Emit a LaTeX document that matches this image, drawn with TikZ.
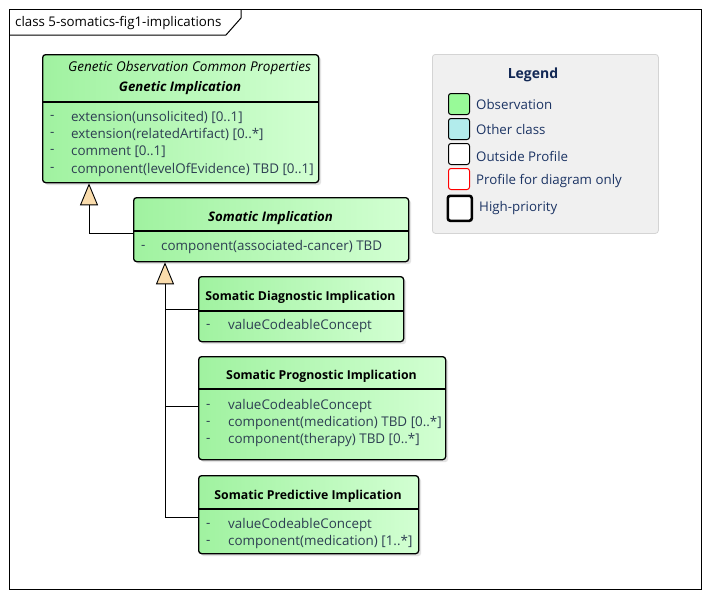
\documentclass[tikz,border=0pt]{standalone}
\usepackage{fontspec}
\setmainfont{Open Sans}
\usetikzlibrary{arrows.meta,calc,shadows}
\definecolor{gl}{RGB}{160,242,160}
\definecolor{gr}{RGB}{210,255,210}
\definecolor{tri}{RGB}{250,220,172}
\definecolor{attr}{RGB}{45,62,82}
\definecolor{lgtext}{RGB}{28,52,100}
\definecolor{lgtitle}{RGB}{18,40,85}
\definecolor{lgfill}{RGB}{240,240,240}
\definecolor{lgdraw}{RGB}{212,212,212}
\definecolor{obs}{RGB}{152,250,152}
\definecolor{oth}{RGB}{178,236,236}
\begin{document}
\begin{tikzpicture}[x=1pt,y=-1pt,
  cls/.style={draw=black, line width=1.3pt, rounded corners=3pt, left color=gl, right color=gr,
    anchor=north west, inner sep=0pt, drop shadow={opacity=0.22, shadow xshift=2.5pt, shadow yshift=-2.5pt}},
  sep/.style={draw=black, line width=1.3pt},
  ttl/.style={font=\fontsize{12.3}{14}\selectfont\bfseries, inner sep=0pt},
  ttli/.style={font=\fontsize{13.2}{15}\selectfont\bfseries\itshape, inner sep=0pt},
  sup/.style={font=\fontsize{13.5}{15}\selectfont\itshape, inner sep=0pt},
  att/.style={font=\fontsize{13.4}{15}\selectfont, text=attr, anchor=west, inner sep=0pt},
  conn/.style={draw=black, line width=0.9pt},
  gen/.style={conn, -{Triangle[width=18pt,length=22pt,fill=tri,line width=0.9pt]}},
  sw/.style={draw=black, line width=1pt, rounded corners=2.5pt, anchor=north west, minimum width=21pt, minimum height=21pt, inner sep=0pt},
  lgt/.style={font=\fontsize{13.3}{15}\selectfont, text=lgtext, anchor=west, inner sep=0pt}
]
\useasboundingbox (0,0) rectangle (709,597);
\fill[white] (0,0) rectangle (709,597);
% frame
\draw[line width=1pt] (9,9) rectangle (701,589);
\draw[line width=1pt] (9,35) -- (226,35) -- (241,18) -- (241,9);
\node[font=\fontsize{13.3}{15}\selectfont, anchor=west, inner sep=0pt] (frametitle) at (15,23) {class 5-somatics-fig1-implications};

% Genetic Implication
\node[cls, minimum width=276pt, minimum height=128pt] (gi) at (42,54) {};
\draw[sep] ($(gi.north west)+(0,48)$) -- ($(gi.north east)+(0,48)$);
\node[sup] (gisup) at (189.5,67.5) {Genetic Observation Common Properties};
\node[ttli] (gititle) at (180,88.5) {Genetic Implication};
\node[att] (gid1) at (50,117.5) {-};
\node[att] (gia1) at (71,117.5) {extension(unsolicited) [0..1]};
\node[att] (gid2) at (50,134.5) {-};
\node[att] (gia2) at (71,134.5) {extension(relatedArtifact) [0..*]};
\node[att] (gid3) at (50,151.5) {-};
\node[att] (gia3) at (71,151.5) {comment [0..1]};
\node[att] (gid4) at (50,169.5) {-};
\node[att] (gia4) at (71,169.5) {component(levelOfEvidence) TBD [0..1]};

% Somatic Implication
\node[cls, minimum width=275pt, minimum height=64pt] (si) at (133,197) {};
\draw[sep] ($(si.north west)+(0,34)$) -- ($(si.north east)+(0,34)$);
\node[ttli] (sititle) at (270.5,218.5) {Somatic Implication};
\node[att] (sid1) at (141,247.5) {-};
\node[att] (sia1) at (161,247.5) {component(associated-cancer) TBD};

% Somatic Diagnostic Implication
\node[cls, minimum width=205pt, minimum height=65pt] (sd) at (198,276) {};
\draw[sep] ($(sd.north west)+(0,35)$) -- ($(sd.north east)+(0,35)$);
\node[ttl] (sdtitle) at (300.5,297.5) {Somatic Diagnostic Implication};
\node[att] (sdd1) at (206,326.5) {-};
\node[att] (sda1) at (228,326.5) {valueCodeableConcept};

% Somatic Prognostic Implication
\node[cls, minimum width=247pt, minimum height=103pt] (sp) at (198,356) {};
\draw[sep] ($(sp.north west)+(0,33)$) -- ($(sp.north east)+(0,33)$);
\node[ttl] (sptitle) at (321.5,376.5) {Somatic Prognostic Implication};
\node[att] (spd1) at (206,406.5) {-};
\node[att] (spa1) at (228,406.5) {valueCodeableConcept};
\node[att] (spd2) at (206,423.5) {-};
\node[att] (spa2) at (228,423.5) {component(medication) TBD [0..*]};
\node[att] (spd3) at (206,440.5) {-};
\node[att] (spa3) at (228,440.5) {component(therapy) TBD [0..*]};

% Somatic Predictive Implication
\node[cls, minimum width=220pt, minimum height=78pt] (sv) at (198,475) {};
\draw[sep] ($(sv.north west)+(0,34)$) -- ($(sv.north east)+(0,34)$);
\node[ttl] (svtitle) at (308,496.5) {Somatic Predictive Implication};
\node[att] (svd1) at (206,525.5) {-};
\node[att] (sva1) at (228,525.5) {valueCodeableConcept};
\node[att] (svd2) at (206,542.5) {-};
\node[att] (sva2) at (228,542.5) {component(medication) [1..*]};

% generalizations
\draw[gen] ($(si.north west)+(0,36)$) -| ($(gi.south west)+(47,0)$);
\draw[gen] ($(sv.north west)+(0,42)$) -| ($(si.south west)+(32,0)$);
\draw[conn] ($(sd.north west)+(0,33)$) -- ($(sd.north west)+(-33,33)$);
\draw[conn] ($(sp.north west)+(0,50)$) -- ($(sp.north west)+(-33,50)$);

% Legend
\node[draw=lgdraw, fill=lgfill, line width=0.8pt, rounded corners=3pt, anchor=north west, minimum width=226pt, minimum height=179pt, inner sep=0pt] (lg) at (432,54) {};
\node[font=\fontsize{14}{16}\selectfont\bfseries, text=lgtitle, inner sep=0pt] (lgtitle) at (533,74.5) {Legend};
\node[sw, fill=obs] (swobs) at (448,93) {};
\node[lgt] (lobs) at (476,105) {Observation};
\node[sw, fill=oth] (swoth) at (448,118) {};
\node[lgt] (loth) at (476,130) {Other class};
\node[sw, fill=white] (swout) at (448,143) {};
\node[lgt] (lout) at (476,156) {Outside Profile};
\node[sw, fill=white, draw=red] (swprof) at (448,168) {};
\node[lgt] (lprof) at (476,181) {Profile for diagram only};
\node[sw, fill=white, line width=2.6pt, minimum width=24pt, minimum height=25pt] (swhp) at (446.5,194.5) {};
\node[lgt] (lhp) at (479,208) {High-priority};
\end{tikzpicture}
\end{document}
